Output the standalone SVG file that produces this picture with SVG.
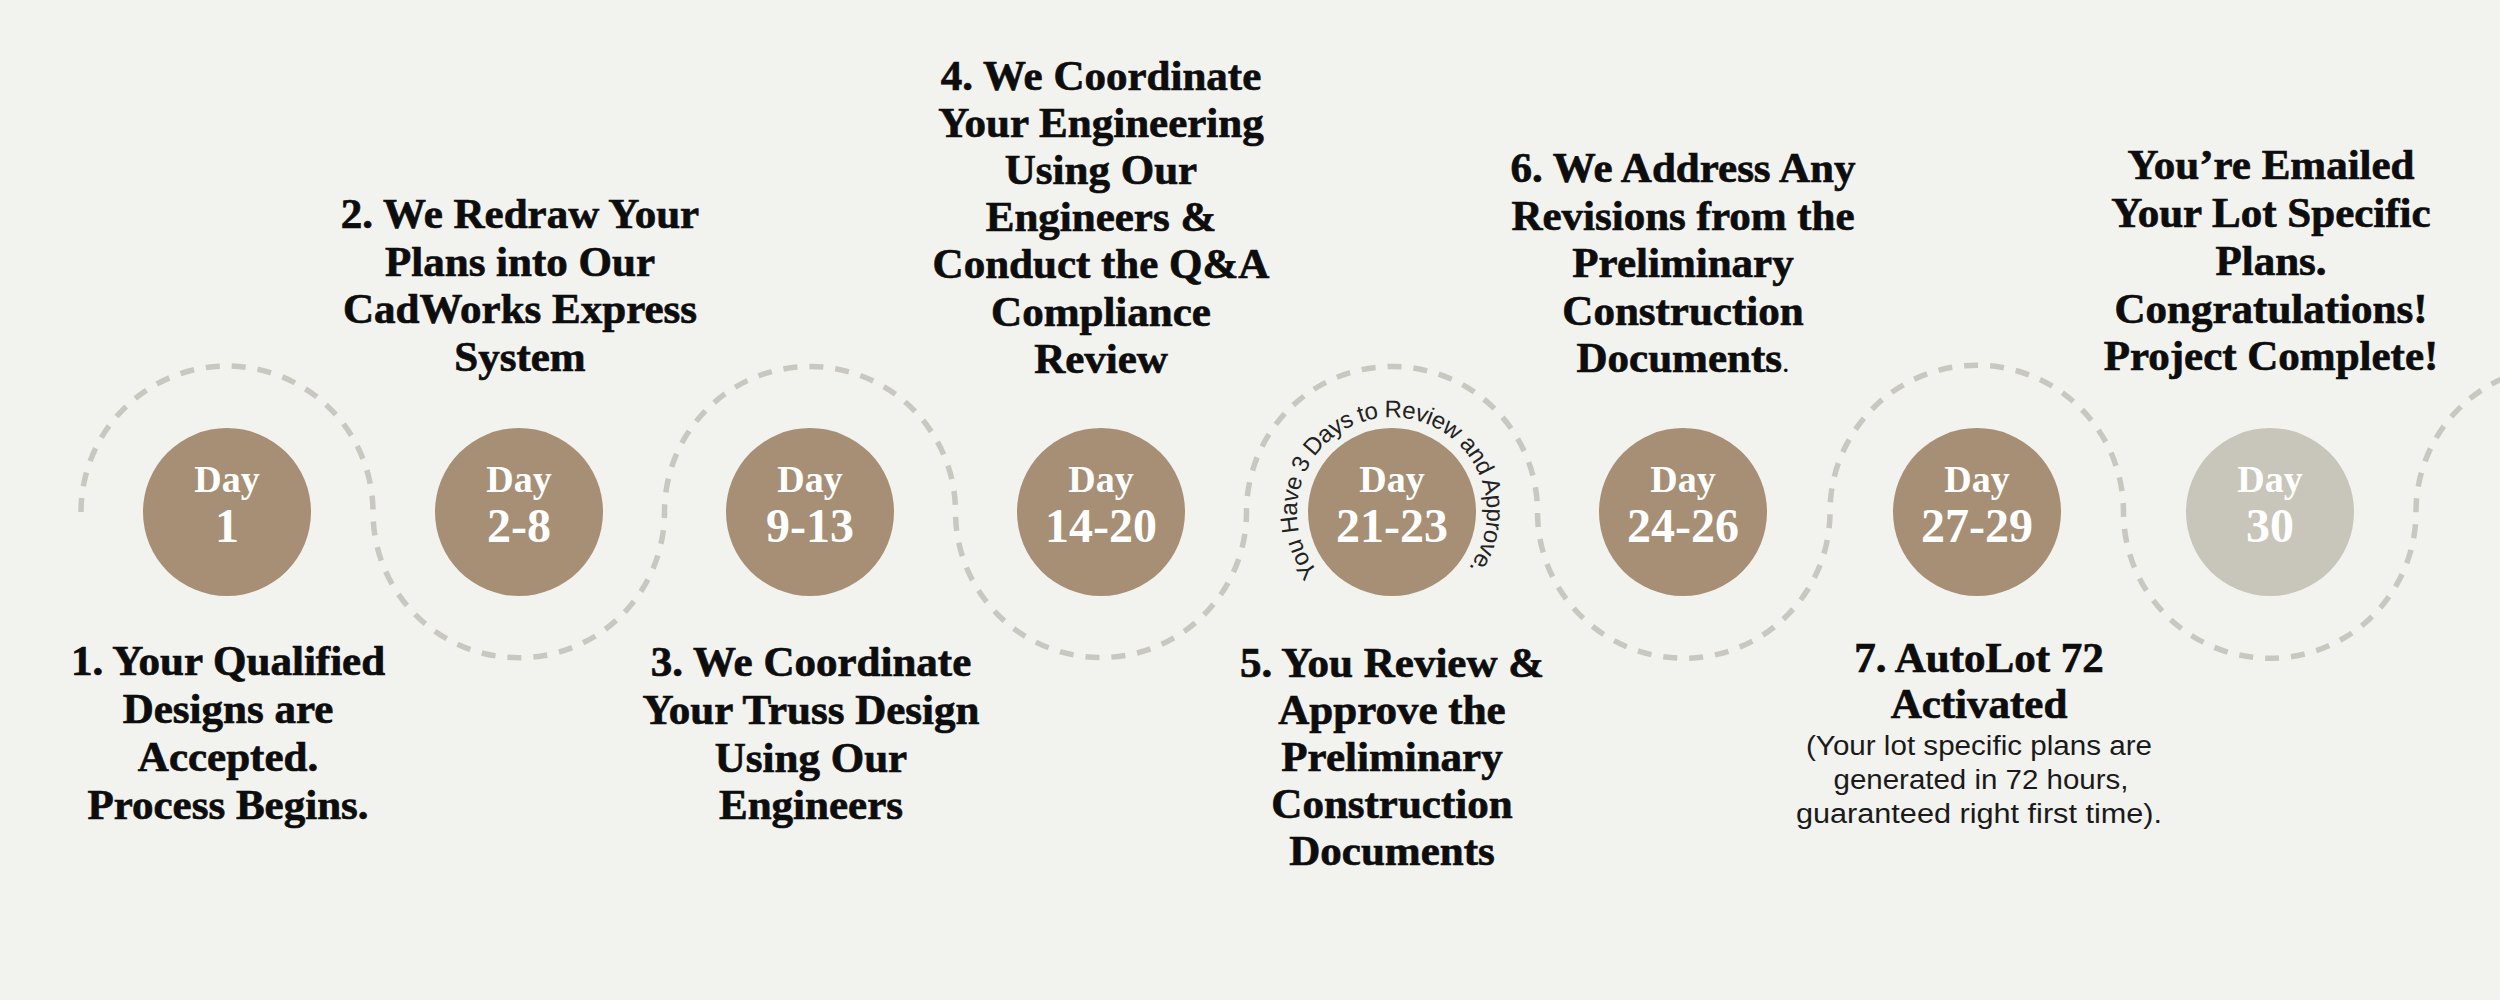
<svg xmlns="http://www.w3.org/2000/svg" width="2500" height="1000" viewBox="0 0 2500 1000">
<defs>
<style>
.bg{fill:#f2f2ef}
.wave{fill:none;stroke:#c9c8c0;stroke-width:5.5;stroke-dasharray:14 12}
.day{fill:#a68f74}
.day.last{fill:#c8c6ba}
.dl{font-family:"Liberation Serif",serif;font-weight:700;fill:#ffffff;text-anchor:middle}
.dl1{font-size:38px}
.dl2{font-size:48px}
.lbl{font-family:"Liberation Serif",serif;font-weight:700;font-size:43px;fill:#0d0d0d;stroke:#0d0d0d;stroke-width:0.7px;text-anchor:middle}
.sm{font-family:"Liberation Sans",sans-serif;font-size:27px;fill:#1a1a1a;text-anchor:middle}
.arc{font-family:"Liberation Sans",sans-serif;font-size:24px;letter-spacing:-0.6px;fill:#222222}
</style>
<path id="ringText" d="M1318.3 572.3 A95 95 0 1 1 1467.9 569.2"/>
</defs>
<rect class="bg" x="0" y="0" width="2500" height="1000"/>

<g id="connectors">
<path class="wave" d="M81 512 A146 146 0 0 1 373 512 A145.75 145.75 0 0 0 664.5 512 A145.5 145.5 0 0 1 955.5 512 A145.5 145.5 0 0 0 1246.5 512 A145.5 145.5 0 0 1 1537.5 512 A146.25 146.25 0 0 0 1830 512 A146.75 146.75 0 0 1 2123.5 512 A146.25 146.25 0 0 0 2416 512 A146 146 0 0 1 2708 512"/>
</g>

<g id="node1">
<circle class="day" cx="227" cy="512" r="84"/>
<text class="dl dl1" x="227" y="492">Day</text>
<text class="dl dl2" x="227" y="542">1</text>
<text class="lbl"><tspan x="228" y="675">1. Your Qualified</tspan><tspan x="228" y="723">Designs are</tspan><tspan x="228" y="771">Accepted.</tspan><tspan x="228" y="819">Process Begins.</tspan></text>
</g>

<g id="node2">
<circle class="day" cx="519" cy="512" r="84"/>
<text class="dl dl1" x="519" y="492">Day</text>
<text class="dl dl2" x="519" y="542">2-8</text>
<text class="lbl"><tspan x="520" y="228">2. We Redraw Your</tspan><tspan x="520" y="276">Plans into Our</tspan><tspan x="520" y="323">CadWorks Express</tspan><tspan x="520" y="371">System</tspan></text>
</g>

<g id="node3">
<circle class="day" cx="810" cy="512" r="84"/>
<text class="dl dl1" x="810" y="492">Day</text>
<text class="dl dl2" x="810" y="542">9-13</text>
<text class="lbl"><tspan x="811" y="676">3. We Coordinate</tspan><tspan x="811" y="724">Your Truss Design</tspan><tspan x="811" y="772">Using Our</tspan><tspan x="811" y="819">Engineers</tspan></text>
</g>

<g id="node4">
<circle class="day" cx="1101" cy="512" r="84"/>
<text class="dl dl1" x="1101" y="492">Day</text>
<text class="dl dl2" x="1101" y="542">14-20</text>
<text class="lbl"><tspan x="1101" y="90">4. We Coordinate</tspan><tspan x="1101" y="137">Your Engineering</tspan><tspan x="1101" y="184">Using Our</tspan><tspan x="1101" y="231">Engineers &amp;</tspan><tspan x="1101" y="278">Conduct the Q&amp;A</tspan><tspan x="1101" y="326">Compliance</tspan><tspan x="1101" y="373">Review</tspan></text>
</g>

<g id="node5">
<circle class="day" cx="1392" cy="512" r="84"/>
<text class="dl dl1" x="1392" y="492">Day</text>
<text class="dl dl2" x="1392" y="542">21-23</text>
<text class="arc"><textPath href="#ringText">You Have 3 Days to Review and Approve.</textPath></text>
<text class="lbl"><tspan x="1392" y="677">5. You Review &amp;</tspan><tspan x="1392" y="724">Approve the</tspan><tspan x="1392" y="771">Preliminary</tspan><tspan x="1392" y="818">Construction</tspan><tspan x="1392" y="865">Documents</tspan></text>
</g>

<g id="node6">
<circle class="day" cx="1683" cy="512" r="84"/>
<text class="dl dl1" x="1683" y="492">Day</text>
<text class="dl dl2" x="1683" y="542">24-26</text>
<text class="lbl"><tspan x="1683" y="182">6. We Address Any</tspan><tspan x="1683" y="230">Revisions from the</tspan><tspan x="1683" y="277">Preliminary</tspan><tspan x="1683" y="325">Construction</tspan><tspan x="1683" y="372">Documents<tspan font-weight="400" font-size="30" stroke-width="0">.</tspan></tspan></text>
</g>

<g id="node7">
<circle class="day" cx="1977" cy="512" r="84"/>
<text class="dl dl1" x="1977" y="492">Day</text>
<text class="dl dl2" x="1977" y="542">27-29</text>
<text class="lbl"><tspan x="1979" y="672">7. AutoLot 72</tspan><tspan x="1979" y="718">Activated</tspan></text>
<text class="sm" x="1979" y="755" textLength="346" lengthAdjust="spacingAndGlyphs">(Your lot specific plans are</text>
<text class="sm" x="1981" y="789" textLength="295" lengthAdjust="spacingAndGlyphs">generated in 72 hours,</text>
<text class="sm" x="1979" y="823" textLength="366" lengthAdjust="spacingAndGlyphs">guaranteed right first time).</text>
</g>

<g id="node8">
<circle class="day last" cx="2270" cy="512" r="84"/>
<text class="dl dl1" x="2270" y="492">Day</text>
<text class="dl dl2" x="2270" y="542">30</text>
<text class="lbl"><tspan x="2271" y="179">You’re Emailed</tspan><tspan x="2271" y="227">Your Lot Specific</tspan><tspan x="2271" y="275">Plans.</tspan><tspan x="2271" y="323">Congratulations!</tspan><tspan x="2271" y="370">Project Complete!</tspan></text>
</g>
</svg>
